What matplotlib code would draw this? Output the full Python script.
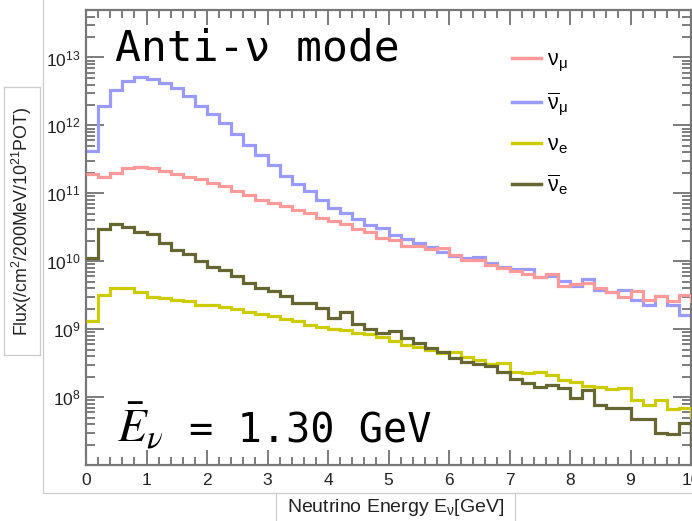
import numpy as np
import matplotlib
matplotlib.use("Agg")
import matplotlib.pyplot as plt
from matplotlib.lines import Line2D
from matplotlib.ticker import LogLocator, MultipleLocator

plt.rcParams['font.family'] = ['Liberation Sans', 'DejaVu Sans']
plt.rcParams['mathtext.fontset'] = 'custom'
plt.rcParams['mathtext.rm'] = 'Liberation Sans'
plt.rcParams['mathtext.it'] = 'Liberation Sans:italic'
plt.rcParams['mathtext.bf'] = 'Liberation Sans:bold'

# 0.2 GeV bins, last one just past the axis end
edges = np.round(np.arange(0, 10.21, 0.2), 2)

numu = [1.95e11, 1.74e11, 2.0e11, 2.35e11, 2.45e11, 2.35e11, 2.1e11, 1.95e11, 1.74e11, 1.65e11,
        1.42e11, 1.29e11, 1.08e11, 9.3e10, 8.1e10, 7.2e10, 6.6e10, 5.6e10, 5.2e10, 4.4e10,
        3.9e10, 3.5e10, 2.95e10, 2.7e10, 2.2e10, 2.05e10, 1.66e10, 1.66e10, 1.5e10, 1.58e10,
        1.23e10, 1.03e10, 1.05e10, 8.9e9, 7.9e9, 7.1e9, 6.4e9, 5.9e9, 6.4e9, 4.3e9,
        4.7e9, 4.8e9, 4.0e9, 3.5e9, 3.0e9, 3.6e9, 2.7e9, 3.1e9, 2.6e9, 3.2e9, 2.6e9]
numubar = [4.2e11, 1.9e12, 3.3e12, 4.5e12, 5.1e12, 4.9e12, 4.2e12, 3.5e12, 2.7e12, 1.96e12,
           1.45e12, 1.07e12, 7.4e11, 5.2e11, 3.7e11, 2.6e11, 1.8e11, 1.38e11, 1.07e11, 7.9e10,
           6.1e10, 5.2e10, 4.2e10, 3.4e10, 3.1e10, 2.4e10, 2.1e10, 1.85e10, 1.6e10, 1.35e10,
           1.2e10, 1.1e10, 1.15e10, 9.4e9, 8.3e9, 7.6e9, 7.6e9, 5.9e9, 6.0e9, 5.1e9,
           4.3e9, 5.5e9, 3.8e9, 3.5e9, 3.8e9, 2.7e9, 2.3e9, 3.1e9, 2.3e9, 1.6e9, 1.6e9]
nue = [1.32e9, 3.2e9, 4.1e9, 4.0e9, 3.5e9, 3.0e9, 2.9e9, 2.7e9, 2.6e9, 2.3e9,
       2.3e9, 2.1e9, 1.96e9, 1.76e9, 1.66e9, 1.55e9, 1.41e9, 1.31e9, 1.17e9, 1.08e9,
       1.0e9, 9.7e8, 8.7e8, 8.4e8, 7.6e8, 6.7e8, 5.8e8, 5.5e8, 4.9e8, 4.5e8,
       4.6e8, 3.9e8, 3.5e8, 3.1e8, 3.2e8, 2.35e8, 2.3e8, 2.35e8, 2.1e8, 1.78e8,
       1.68e8, 1.45e8, 1.42e8, 1.3e8, 1.34e8, 9.1e7, 7.6e7, 9.1e7, 6.6e7, 7.0e7, 5.1e7]
nuebar = [1.1e10, 3.0e10, 3.5e10, 3.2e10, 2.7e10, 2.5e10, 1.87e10, 1.48e10, 1.29e10, 1.0e10,
          8.3e9, 7.4e9, 6.0e9, 4.8e9, 4.0e9, 3.6e9, 3.1e9, 2.45e9, 2.4e9, 2.05e9,
          1.47e9, 1.8e9, 1.2e9, 1.02e9, 8.8e8, 9.4e8, 7.3e8, 6.3e8, 5.3e8, 4.6e8,
          3.8e8, 3.3e8, 3.1e8, 2.9e8, 2.35e8, 1.83e8, 1.59e8, 1.39e8, 1.5e8, 1.34e8,
          9.6e7, 1.27e8, 7.6e7, 7.0e7, 6.8e7, 4.8e7, 4.7e7, 3.0e7, 2.9e7, 4.2e7, 1.9e7]

W, H = 692, 521
fig = plt.figure(figsize=(W / 100, H / 100), dpi=100)
ax = fig.add_axes([86 / W, 1 - 465 / H, 605 / W, 455 / H])

lw = 2.3
ax.stairs(numubar, edges, color='#9a9aff', lw=lw, baseline=None, label=r'$\overline{\mathrm{\nu}}_{\mathrm{\mu}}$', zorder=2)
ax.stairs(numu, edges, color='#ff9a9a', lw=lw, baseline=None, label=r'$\mathrm{\nu}_{\mathrm{\mu}}$', zorder=3)
ax.stairs(nue, edges, color='#cccc00', lw=lw, baseline=None, label=r'$\mathrm{\nu}_{\mathrm{e}}$', zorder=4)
ax.stairs(nuebar, edges, color='#666633', lw=lw, baseline=None, label=r'$\overline{\mathrm{\nu}}_{\mathrm{e}}$', zorder=5)

ax.set_yscale('log')
ax.set_xlim(0, 10)
ax.set_ylim(1e7, 5e13)

ax.xaxis.set_major_locator(MultipleLocator(1))
ax.xaxis.set_minor_locator(MultipleLocator(0.2))
ax.yaxis.set_minor_locator(LogLocator(base=10, subs=np.arange(2, 10), numticks=20))
ax.yaxis.set_minor_formatter(matplotlib.ticker.NullFormatter())
ax.set_yticks([1e8, 1e9, 1e10, 1e11, 1e12, 1e13])
ax.set_yticklabels([r'10$^{8}$', r'10$^{9}$', r'10$^{10}$', r'10$^{11}$', r'10$^{12}$', r'10$^{13}$'])

for s in ax.spines.values():
    s.set_color('#777777')
    s.set_linewidth(1.6)
ax.tick_params(which='both', direction='in', top=True, right=True, color='#666666', width=1.2,
               labelsize=12.5, labelcolor='#222222')
ax.tick_params(which='major', length=13)
ax.tick_params(which='minor', length=6.5)
ax.tick_params(axis='x', which='major', length=11, pad=6)
ax.tick_params(axis='x', which='minor', length=6)
ax.tick_params(axis='y', pad=4)

handles, labels = ax.get_legend_handles_labels()
order = [1, 0, 2, 3]
leg = ax.legend([Line2D([], [], color=handles[i].get_edgecolor(), lw=2.5) for i in order],
                [labels[i] for i in order], loc='upper left', bbox_to_anchor=(0.672, 0.955),
                frameon=False, fontsize=15.5, handlelength=1.35, handletextpad=0.3, labelspacing=0.75)

fig.text(22 / W, 1 - 221 / H, r'Flux(/cm$^{2}$/200MeV/10$^{21}$POT)', rotation=90,
         ha='center', va='center', fontsize=12.8, color='#222222')
fig.text(396 / W, 1 - 507 / H, r'Neutrino Energy E$_{\mathrm{\nu}}$[GeV]', ha='center', va='center',
         fontsize=14, color='#222222')

ax.text(0.048, 0.888, 'Anti-ν mode', transform=ax.transAxes, fontsize=31,
        family='DejaVu Sans Mono', va='baseline', ha='left', color='black')
ax.text(0.051, 0.05, r'$\bar{E}_{\nu}$', transform=ax.transAxes, fontsize=34,
        math_fontfamily='stix', va='baseline', ha='left', color='black')
ax.text(0.170, 0.05, '= 1.30 GeV', transform=ax.transAxes, fontsize=29,
        family='DejaVu Sans Mono', va='baseline', ha='left', color='black')

# light frame lines of the pasted panels
grey = '#cccccc'
def fline(x0, y0, x1, y1):
    fig.add_artist(Line2D([x0 / W, x1 / W], [1 - y0 / H, 1 - y1 / H], color=grey, lw=0.9,
                          transform=fig.transFigure))
fline(43, 0, 43, 493)
fline(43, 493, W, 493)
fline(4, 87, 40, 87)
fline(4, 355, 40, 355)
fline(4, 87, 4, 355)
fline(40, 87, 40, 355)
fline(276, 493, 276, H)
fline(515, 493, 515, H)

fig.savefig('out.png', dpi=100)
